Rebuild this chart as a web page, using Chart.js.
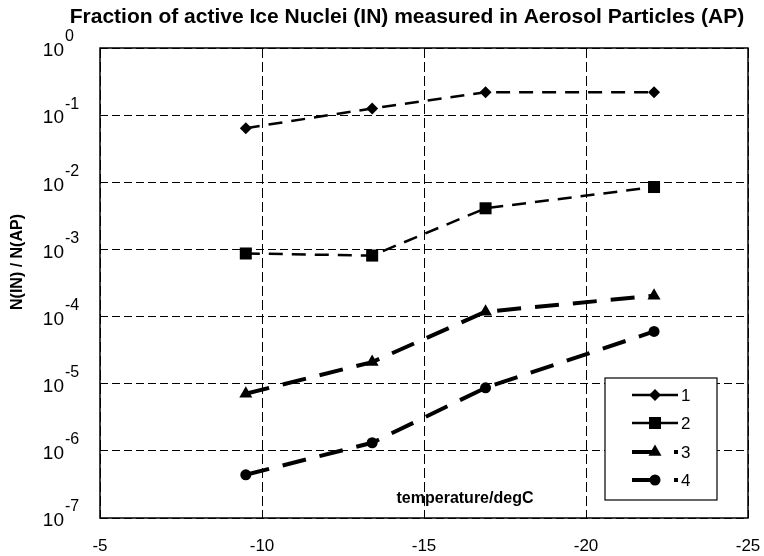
<!DOCTYPE html>
<html>
<head>
<meta charset="utf-8">
<script src="https://cdn.jsdelivr.net/npm/chart.js@4/dist/chart.umd.min.js"></script>
<style>
  html, body { margin: 0; padding: 0; background: #fff; }
  #wrap { width: 764px; height: 556px; }
</style>
</head>
<body>
<div id="wrap"><canvas id="chart" width="764" height="556"></canvas></div>
<script>
// temperatures (degC) of the four measurements
const temps = [-9.5, -13.4, -16.9, -22.1];
// N(IN) / N(AP) per series
const series1 = [0.064, 0.126, 0.22, 0.22];
const series2 = [8.7e-4, 8.1e-4, 4.1e-3, 8.5e-3];
const series3 = [7.1e-6, 2.1e-5, 1.18e-4, 2.05e-4];
const series4 = [4.4e-7, 1.32e-6, 8.7e-6, 6.0e-5];
const seriesLabels = ['1', '2', '3', '4'];
const xTicks = [-5, -10, -15, -20, -25];
const yExponents = [0, -1, -2, -3, -4, -5, -6, -7];

const FONT = '"Liberation Sans", Arial, sans-serif';

function pts(vals) {
    return vals.map((v, i) => ({ x: temps[i], y: v }));
}

// line styles: first two thin dashes, last two heavy long dashes
const styles = [
    { pointStyle: 'rectRot', radius: 6, width: 2.5, dash: [14, 9] },
    { pointStyle: 'rect', radius: 8.5, width: 2.5, dash: [14, 9] },
    { pointStyle: 'triangle', radius: 7.5, width: 4, dash: [24, 14] },
    { pointStyle: 'circle', radius: 5.5, width: 4, dash: [24, 14] }
];

const datasets = [series1, series2, series3, series4].map((vals, i) => ({
    label: seriesLabels[i],
    data: pts(vals),
    borderColor: '#000',
    backgroundColor: '#000',
    borderWidth: styles[i].width,
    borderDash: styles[i].dash,
    pointStyle: styles[i].pointStyle,
    pointRadius: styles[i].radius,
    pointBorderWidth: 0,
    pointBackgroundColor: '#000',
    tension: 0
}));

// draws title, tick labels, axis titles, frame and the legend box
const decor = {
    id: 'decor',
    afterDraw(chart) {
        const ctx = chart.ctx;
        const area = chart.chartArea;
        const xs = chart.scales.x, ys = chart.scales.y;
        ctx.save();
        ctx.fillStyle = '#000';

        // frame
        ctx.strokeStyle = '#000';
        ctx.lineWidth = 1.5;
        ctx.setLineDash([]);
        ctx.strokeRect(area.left, area.top, area.right - area.left, area.bottom - area.top);

        // title, squeezed a bit to fit like the original
        const title = 'Fraction of active Ice Nuclei (IN) measured in Aerosol Particles (AP)';
        ctx.font = 'bold 21px ' + FONT;
        ctx.textAlign = 'center';
        ctx.textBaseline = 'middle';
        const tw = ctx.measureText(title).width;
        const sx = Math.min(1, 705 / tw);
        ctx.save();
        ctx.translate(407, 17);
        ctx.scale(sx, 1);
        ctx.fillText(title, 0, 0);
        ctx.restore();

        // x tick labels
        ctx.font = '17px ' + FONT;
        xTicks.forEach(t => {
            ctx.fillText(String(t), xs.getPixelForValue(t), 546);
        });

        // y tick labels 10^n
        yExponents.forEach(e => {
            const y = ys.getPixelForValue(Math.pow(10, e));
            ctx.textAlign = 'right';
            ctx.font = '19px ' + FONT;
            ctx.fillText('10', 64, y + 3);
            ctx.textAlign = 'left';
            ctx.font = '16px ' + FONT;
            ctx.fillText(String(e), 65, y - 11);
        });

        // axis titles
        ctx.font = 'bold 16px ' + FONT;
        ctx.textAlign = 'center';
        ctx.fillText('temperature/degC', 465, 499);
        ctx.save();
        ctx.translate(18, 262);
        ctx.rotate(-Math.PI / 2);
        ctx.font = 'bold 16px ' + FONT;
        ctx.fillText('N(IN) / N(AP)', 0, 0);
        ctx.restore();

        // legend box
        const bx = 605, by = 378, bw = 112, bh = 122;
        ctx.fillStyle = '#fff';
        ctx.fillRect(bx, by, bw, bh);
        ctx.strokeStyle = '#000';
        ctx.lineWidth = 1.2;
        ctx.strokeRect(bx, by, bw, bh);
        const rows = [395, 423, 452, 480];
        chart.data.datasets.forEach((ds, i) => {
            const y = rows[i];
            ctx.strokeStyle = '#000';
            ctx.lineWidth = i < 2 ? 2.5 : 4;
            ctx.setLineDash(i < 2 ? [] : [23, 19, 4, 100]);
            ctx.beginPath();
            ctx.moveTo(632, y);
            ctx.lineTo(678, y);
            ctx.stroke();
            ctx.setLineDash([]);
            ctx.fillStyle = '#000';
            Chart.helpers.drawPoint(ctx, {
                pointStyle: styles[i].pointStyle,
                radius: styles[i].radius,
                borderWidth: 0,
                rotation: 0
            }, 655, y);
            ctx.font = '17px ' + FONT;
            ctx.textAlign = 'left';
            ctx.fillText(ds.label, 681, y + 1);
        });
        ctx.restore();
    }
};

new Chart(document.getElementById('chart'), {
    type: 'line',
    data: { datasets },
    options: {
        responsive: false,
        animation: false,
        layout: { padding: { left: 100, right: 16, top: 48, bottom: 38 } },
        plugins: {
            legend: { display: false },
            tooltip: { enabled: false },
            title: { display: false }
        },
        scales: {
            x: {
                type: 'linear',
                reverse: true,
                min: -25,
                max: -5,
                afterBuildTicks: axis => { axis.ticks = xTicks.map(v => ({ value: v })); },
                ticks: { display: false },
                grid: { color: '#000', lineWidth: 1, drawTicks: false },
                border: { display: false, dash: [10, 4] }
            },
            y: {
                type: 'logarithmic',
                min: 1e-7,
                max: 1,
                afterBuildTicks: axis => { axis.ticks = yExponents.map(e => ({ value: Math.pow(10, e) })); },
                ticks: { display: false },
                grid: { color: '#000', lineWidth: 1, drawTicks: false },
                border: { display: false, dash: [8, 4] }
            }
        }
    },
    plugins: [decor]
});
</script>
</body>
</html>
